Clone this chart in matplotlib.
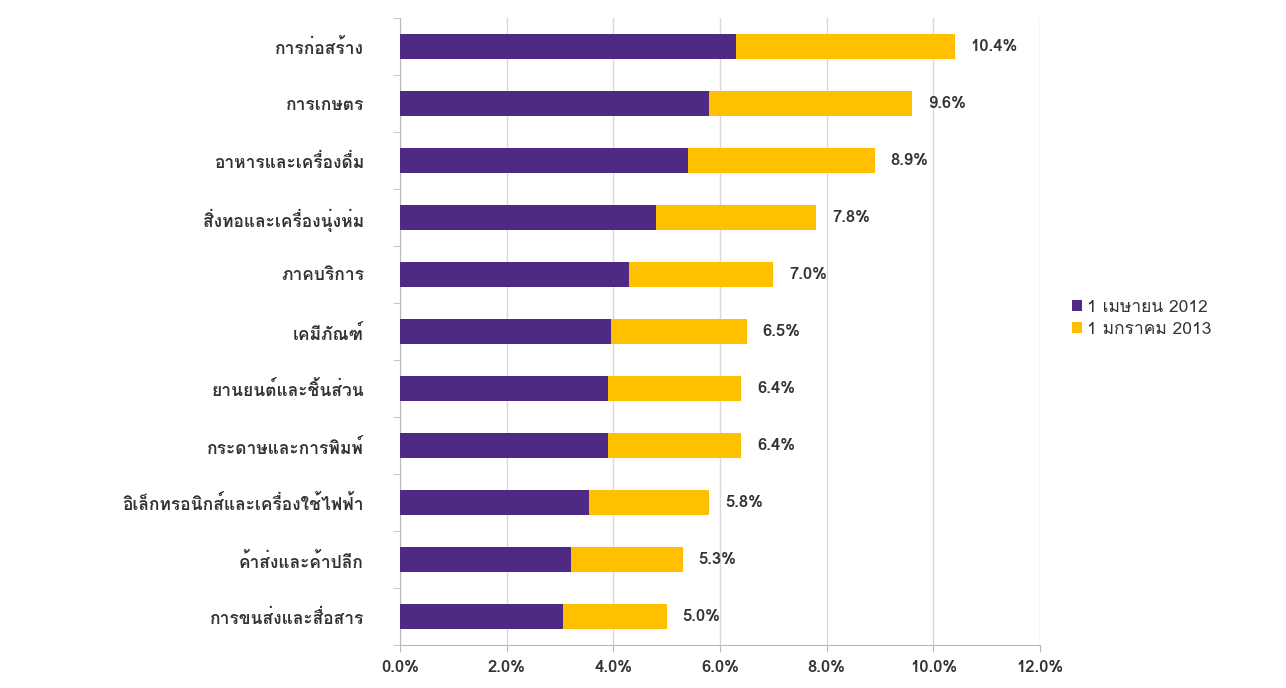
import matplotlib
matplotlib.use("Agg")
import matplotlib.pyplot as plt
from matplotlib import font_manager
from matplotlib.ft2font import FT2Font
import numpy as np

# ข้อมูล: ผลกระทบต้นทุนจากค่าแรงขั้นต่ำ แยกตามอุตสาหกรรม
categories = ["การก่อสร้าง", "การเกษตร", "อาหารและเครื่องดื่ม", "สิ่งทอและเครื่องนุ่งห่ม",
              "ภาคบริการ", "เคมีภัณฑ์", "ยานยนต์และชิ้นส่วน", "กระดาษและการพิมพ์",
              "อิเล็กทรอนิกส์และเครื่องใช้ไฟฟ้า", "ค้าส่งและค้าปลีก", "การขนส่งและสื่อสาร"]
apr_2012 = [6.3, 5.8, 5.4, 4.8, 4.3, 3.95, 3.9, 3.9, 3.55, 3.2, 3.05]
total = [10.4, 9.6, 8.9, 7.8, 7.0, 6.5, 6.4, 6.4, 5.8, 5.3, 5.0]
jan_2013 = [t - a for t, a in zip(total, apr_2012)]
series_names = ["1 เมษายน 2012", "1 มกราคม 2013"]
x_ticks = [0, 2, 4, 6, 8, 10, 12]


# หาฟอนต์ที่มีอักษรไทย
def find_thai_font():
    for f in font_manager.fontManager.ttflist:
        try:
            cmap = FT2Font(f.fname).get_charmap()
        except Exception:
            continue
        if 0x0E01 in cmap and 0x0E48 in cmap:
            return f.name
    return None


thai = find_thai_font()
fams = ([thai] if thai else []) + ["DejaVu Sans"]
plt.rcParams["font.family"] = fams

purple = "#4E2A84"
gold = "#FFC000"

fig = plt.figure(figsize=(12.86, 6.88), dpi=100)
ax = fig.add_axes([400 / 1286, 43 / 688, 640 / 1286, 627 / 688])

y = np.arange(len(categories))
ax.barh(y, apr_2012, height=0.44, color=purple, label=series_names[0], zorder=3)
ax.barh(y, jan_2013, left=apr_2012, height=0.44, color=gold, label=series_names[1], zorder=3)

for yi, t in zip(y, total):
    ax.text(t + 0.3, yi, f"{t:.1f}%", va="center", ha="left", fontsize=12,
            fontweight="bold", color="#333333")

ax.set_xlim(0, 12)
ax.set_ylim(len(categories) - 0.5, -0.5)
ax.set_xticks(x_ticks)
ax.set_xticklabels([f"{v:.1f}%" for v in x_ticks], fontsize=12, fontweight="bold", color="#333333")
ax.set_yticks(y)
ax.set_yticklabels(categories, fontsize=12.5, fontweight="bold", color="#333333")
ax.set_yticks(np.arange(len(categories) + 1) - 0.5, minor=True)
ax.tick_params(axis="y", which="major", length=0, pad=26)
ax.tick_params(axis="y", which="minor", length=5, color="#bbbbbb")
ax.tick_params(axis="x", length=5, color="#bbbbbb", pad=6)

ax.grid(axis="x", color="#d9d9d9", linewidth=1, zorder=0)
for s in ["top", "right"]:
    ax.spines[s].set_visible(False)
for s in ["left", "bottom"]:
    ax.spines[s].set_color("#bbbbbb")

ax.legend(loc="center left", bbox_to_anchor=(1.025, 0.52), frameon=False, fontsize=12.5,
          handlelength=0.6, handleheight=0.6, handletextpad=0.3, labelspacing=0.35,
          labelcolor="#333333")

fig.savefig("out.png", dpi=100)
